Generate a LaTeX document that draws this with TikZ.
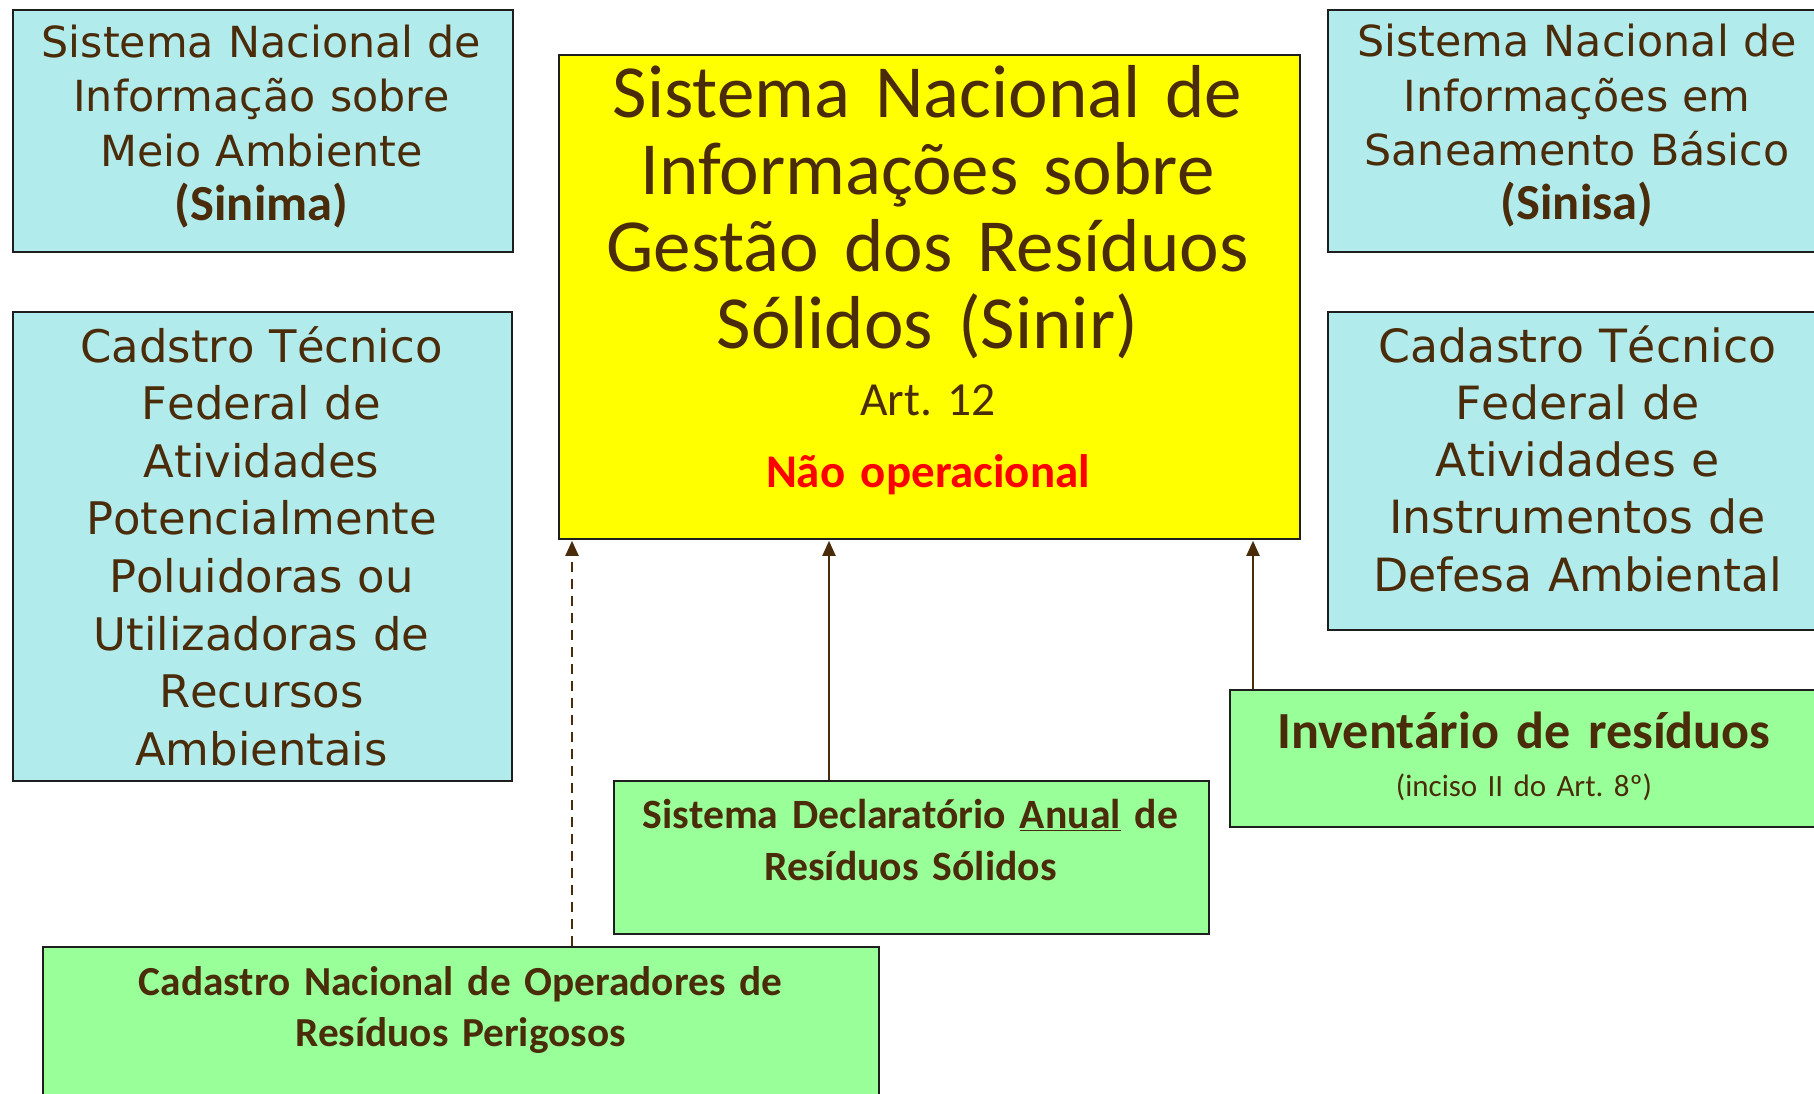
\documentclass[tikz,border=0pt]{standalone}
\usepackage{fontspec}
\usetikzlibrary{arrows.meta}
\newfontfamily\verdfont[Kerning=Off]{DejaVu Sans}
\newfontfamily\califont{Carlito}
\definecolor{txtbrown}{RGB}{74,44,10}
\definecolor{boxcyan}{RGB}{178,235,235}
\definecolor{boxgreen}{RGB}{153,255,153}
\definecolor{boxyellow}{RGB}{255,255,0}
\definecolor{edgecol}{RGB}{30,30,30}
\definecolor{alertred}{RGB}{255,0,0}
\tikzset{
  box/.style={draw=edgecol, line width=2.2pt, inner sep=0pt, anchor=north west},
  bluebox/.style={box, fill=boxcyan},
  greenbox/.style={box, fill=boxgreen},
  yellowbox/.style={box, fill=boxyellow},
  txt/.style={inner sep=0pt, anchor=base, text=txtbrown, align=center, text width=700pt},
  link/.style={draw=txtbrown, line width=2pt, -{Triangle[length=15pt,width=13pt]}, shorten >=1pt},
}
\begin{document}
\frenchspacing
\begin{tikzpicture}[x=1pt,y=-1pt]
\useasboundingbox (0,0) rectangle (1814,1094);
\clip (0,0) rectangle (1814,1094);
\fill[white] (0,0) rectangle (1814,1094);

% boxes
\node[bluebox, minimum width=500pt, minimum height=241.5pt] (sinima) at (11.5,9) {};
\node[bluebox, minimum width=499.5pt, minimum height=468.5pt] (cadl) at (11.5,311) {};
\node[yellowbox, minimum width=741pt, minimum height=484pt] (sinir) at (557.5,53.6) {};
\node[bluebox, minimum width=500pt, minimum height=242pt] (sinisa) at (1327,9) {};
\node[bluebox, minimum width=500pt, minimum height=318pt] (cadr) at (1327,311) {};
\node[greenbox, minimum width=600pt, minimum height=137pt] (inv) at (1229,689) {};
\node[greenbox, minimum width=595pt, minimum height=152.5pt] (sda) at (613,780) {};
\node[greenbox, minimum width=836pt, minimum height=200pt] (cnorp) at (42,946) {};

% texts
\node[txt, font=\verdfont\fontsize{42.8}{54.3}\selectfont] (tsinima) at (261.5,57.5)
  {Sistema Nacional de\\Informação sobre\\Meio Ambiente\\{\califont\bfseries\fontsize{50.5}{54.3}\selectfont (Sinima)}};
\node[txt, font=\verdfont\fontsize{44.9}{57.6}\selectfont] (tcadl) at (261.5,362)
  {Cadstro Técnico\\Federal de\\Atividades\\Potencialmente\\Poluidoras ou\\Utilizadoras de\\Recursos\\Ambientais};
\node[txt, font=\verdfont\fontsize{42.8}{54.3}\selectfont] (tsinisa) at (1577,57)
  {Sistema Nacional de\\Informações em\\Saneamento Básico\\{\califont\bfseries\fontsize{50.5}{54.3}\selectfont (Sinisa)}};
\node[txt, font=\verdfont\fontsize{45.8}{57.3}\selectfont] (tcadr) at (1577.5,362)
  {Cadastro Técnico\\Federal de\\Atividades e\\Instrumentos de\\Defesa Ambiental};

\node[txt, font=\califont\fontsize{75}{76.7}\selectfont] (tsinir) at (927.5,118)
  {Sistema Nacional de\\Informações sobre\\Gestão dos Resíduos\\Sólidos (Sinir)};
\node[txt, font=\califont\fontsize{47.5}{50}\selectfont] (tart) at (928,415) {Art. 12};
\node[txt, text=alertred, font=\califont\bfseries\fontsize{46.9}{50}\selectfont] (tnao) at (928,487.5) {Não operacional};

\node[txt, font=\califont\bfseries\fontsize{52.1}{60}\selectfont] (tinv) at (1524,748) {Inventário de resíduos};
\node[txt, font=\califont\fontsize{31}{36}\selectfont] (tinc) at (1524,796.7) {(inciso II do Art. 8º)};
\node[txt, font=\califont\bfseries\fontsize{41.7}{52}\selectfont] (tsda) at (910.5,828)
  {Sistema Declaratório \underline{Anual} de\\Resíduos Sólidos};
\node[txt, font=\califont\bfseries\fontsize{41.3}{51.7}\selectfont] (tcnorp) at (460.5,995)
  {Cadastro Nacional de Operadores de\\Resíduos Perigosos};

% connectors
\coordinate (xa) at (572,0);
\coordinate (xb) at (829,0);
\coordinate (xc) at (1253,0);
\draw[link, dash pattern=on 10pt off 7pt] (cnorp.north -| xa) -- (sinir.south -| xa);
\draw[link] (sda.north -| xb) -- (sinir.south -| xb);
\draw[link] (inv.north -| xc) -- (sinir.south -| xc);
\end{tikzpicture}
\end{document}
